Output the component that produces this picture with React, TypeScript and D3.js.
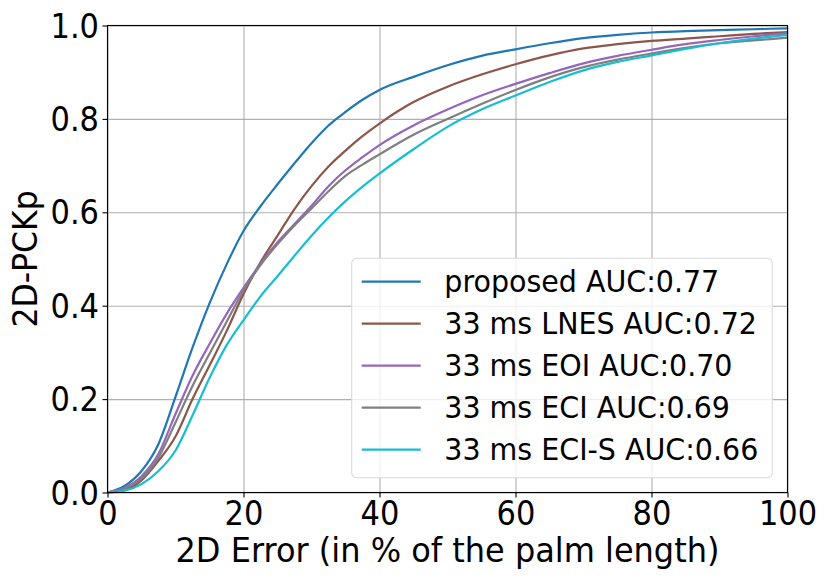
import * as React from 'react';
import { useEffect, useRef } from 'react';
import { scaleLinear, select, line, axisLeft, axisBottom, format, curveMonotoneX } from 'd3';

// error thresholds (% of palm length) at which the curves were read
const errorSteps = [0, 2.5, 5, 7.5, 10, 12.5, 15, 17.5, 20, 22.5, 25, 27.5, 30, 32.5, 35, 37.5, 40, 45, 50, 55, 60, 65, 70, 75, 80, 85, 90, 95, 100];

const proposed = [0, 0.014, 0.046, 0.104, 0.205, 0.31, 0.405, 0.488, 0.56, 0.613, 0.66, 0.705, 0.748, 0.786, 0.815, 0.841, 0.862, 0.89, 0.915, 0.935, 0.949, 0.962, 0.973, 0.98, 0.985, 0.988, 0.99, 0.992, 0.994];
const lnes = [0, 0.005, 0.026, 0.068, 0.12, 0.2, 0.272, 0.345, 0.425, 0.493, 0.55, 0.607, 0.656, 0.698, 0.732, 0.763, 0.79, 0.836, 0.869, 0.895, 0.917, 0.936, 0.951, 0.96, 0.967, 0.972, 0.977, 0.982, 0.986];
const eoi = [0, 0.01, 0.035, 0.083, 0.168, 0.25, 0.318, 0.382, 0.438, 0.49, 0.536, 0.575, 0.614, 0.656, 0.69, 0.718, 0.744, 0.786, 0.82, 0.85, 0.875, 0.898, 0.919, 0.935, 0.948, 0.96, 0.969, 0.977, 0.983];
const eci = [0, 0.008, 0.03, 0.075, 0.15, 0.228, 0.297, 0.365, 0.432, 0.487, 0.532, 0.572, 0.608, 0.645, 0.678, 0.702, 0.724, 0.766, 0.8, 0.832, 0.862, 0.889, 0.911, 0.927, 0.94, 0.952, 0.962, 0.968, 0.974];
const eciS = [0, 0.004, 0.018, 0.046, 0.09, 0.165, 0.245, 0.315, 0.369, 0.42, 0.463, 0.507, 0.55, 0.589, 0.624, 0.655, 0.683, 0.735, 0.783, 0.82, 0.85, 0.879, 0.904, 0.922, 0.936, 0.95, 0.962, 0.972, 0.98];

const seriesNames = ['proposed AUC:0.77', '33 ms LNES AUC:0.72', '33 ms EOI AUC:0.70', '33 ms ECI AUC:0.69', '33 ms ECI-S AUC:0.66'];
const seriesValues = [proposed, lnes, eoi, eci, eciS];
const seriesColors = ['#1f77b4', '#8c564b', '#9467bd', '#7f7f7f', '#17becf'];

const xTicks = [0, 20, 40, 60, 80, 100];
const yTicks = [0, 0.2, 0.4, 0.6, 0.8, 1.0];

const xLabel = '2D Error (in % of the palm length)';
const yLabel = '2D-PCKp';

const W = 830;
const H = 581;
const margin = { top: 25.5, right: 42.5, bottom: 88.5, left: 107.5 };
const font = '"DejaVu Sans", sans-serif';
const stretch = 1.08; // the source glyphs are a little taller than wide

export default function App() {
    const ref = useRef<SVGSVGElement>(null);

    useEffect(() => {
        const svg = select(ref.current);
        svg.selectAll('*').remove();
        const width = W - margin.left - margin.right;
        const height = H - margin.top - margin.bottom;

        const x = scaleLinear().domain([0, 100]).range([0, width]);
        const y = scaleLinear().domain([0, 1]).range([height, 0]);

        const g = svg.append('g').attr('transform', `translate(${margin.left}, ${margin.top})`);

        // grid
        g.append('g')
            .attr('transform', `translate(0, ${height})`)
            .call(axisBottom(x).tickValues(xTicks).tickSize(-height).tickFormat(() => ''))
            .call((a) => a.select('.domain').remove())
            .selectAll('line')
            .attr('stroke', '#b0b0b0')
            .attr('stroke-width', 1.1);
        g.append('g')
            .call(axisLeft(y).tickValues(yTicks).tickSize(-width).tickFormat(() => ''))
            .call((a) => a.select('.domain').remove())
            .selectAll('line')
            .attr('stroke', '#b0b0b0')
            .attr('stroke-width', 1.1);

        // curves
        const curve = line<number>()
            .x((_, i) => x(errorSteps[i]))
            .y((d) => y(d))
            .curve(curveMonotoneX);

        seriesValues.forEach((vals, i) => {
            g.append('path')
                .datum(vals)
                .attr('fill', 'none')
                .attr('stroke', seriesColors[i])
                .attr('stroke-width', 2.2)
                .attr('stroke-linejoin', 'round')
                .attr('d', curve);
        });

        // frame
        g.append('rect')
            .attr('width', width)
            .attr('height', height)
            .attr('fill', 'none')
            .attr('stroke', '#000')
            .attr('stroke-width', 1.1);

        // axes
        const xAxis = g.append('g')
            .attr('transform', `translate(0, ${height})`)
            .call(axisBottom(x).tickValues(xTicks).tickSize(5).tickFormat(format('d')));
        xAxis.select('.domain').remove();
        xAxis.selectAll('line').attr('stroke', '#000').attr('stroke-width', 1.1);
        xAxis.selectAll('text')
            .attr('y', null)
            .attr('dy', null)
            .attr('transform', `translate(0, 32.5) scale(1, ${stretch})`)
            .attr('font-size', 30.5)
            .attr('font-family', font)
            .attr('fill', '#000');

        const yAxis = g.append('g')
            .call(axisLeft(y).tickValues(yTicks).tickSize(5).tickFormat(format('.1f')));
        yAxis.select('.domain').remove();
        yAxis.selectAll('line').attr('stroke', '#000').attr('stroke-width', 1.1);
        yAxis.selectAll('text')
            .attr('x', null)
            .attr('dy', null)
            .attr('transform', `translate(-8.5, 11.5) scale(1, ${stretch})`)
            .attr('font-size', 30.5)
            .attr('font-family', font)
            .attr('fill', '#000');

        // axis labels
        svg.append('text')
            .attr('transform', `translate(${margin.left + width / 2}, 562) scale(1, ${stretch})`)
            .attr('text-anchor', 'middle')
            .attr('font-size', 32)
            .attr('font-family', font)
            .text(xLabel);
        svg.append('text')
            .attr('transform', `translate(37, ${margin.top + height / 2}) rotate(-90) scale(1, ${stretch})`)
            .attr('text-anchor', 'middle')
            .attr('font-size', 31.5)
            .attr('font-family', font)
            .text(yLabel);

        // legend
        const lg = svg.append('g').attr('transform', 'translate(351.7, 258.3)');
        lg.append('rect')
            .attr('width', 420.6)
            .attr('height', 219.4)
            .attr('rx', 5)
            .attr('fill', '#fff')
            .attr('fill-opacity', 0.8)
            .attr('stroke', '#d9d9d9')
            .attr('stroke-width', 1.1);
        seriesNames.forEach((name, i) => {
            const cy = 23.4 + i * 42;
            lg.append('line')
                .attr('x1', 10)
                .attr('x2', 69)
                .attr('y1', cy)
                .attr('y2', cy)
                .attr('stroke', seriesColors[i])
                .attr('stroke-width', 2.2);
            lg.append('text')
                .attr('transform', `translate(92.6, ${cy + 10.6}) scale(1, ${stretch})`)
                .attr('font-size', 28.5)
                .attr('font-family', font)
                .text(name);
        });
    }, []);

    return (
        <svg ref={ref} width={W} height={H} style={{ position: 'absolute', left: 0, top: 0, background: '#fff' }} />
    );
}
